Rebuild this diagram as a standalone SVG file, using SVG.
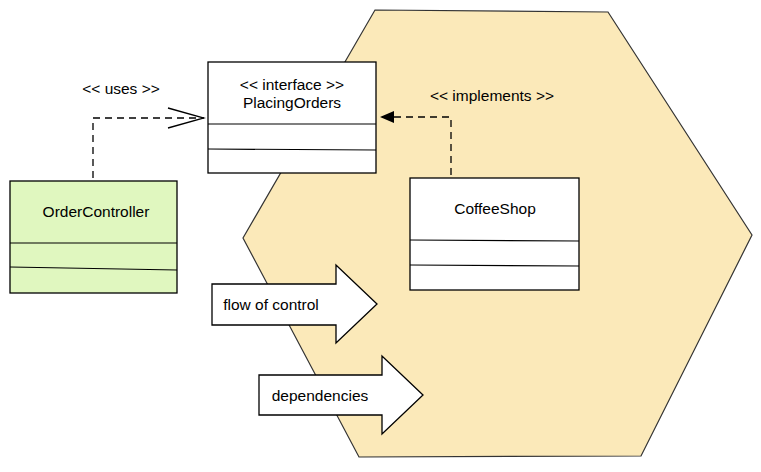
<svg xmlns="http://www.w3.org/2000/svg" width="761" height="472" viewBox="0 0 761 472">
<defs>
<style>
text{font-family:"Liberation Sans",Arial,sans-serif;font-size:15.5px;fill:#000;text-anchor:middle;dominant-baseline:central}
.box{fill:#fff;stroke:#000;stroke-width:1.3}
.div{stroke:#000;stroke-width:1.2;fill:none}
.dash{fill:none;stroke:#000;stroke-width:1.3;stroke-dasharray:7 5}
</style>
<marker id="open" viewBox="0 0 40 24" refX="38" refY="12" markerWidth="40" markerHeight="24" markerUnits="userSpaceOnUse" orient="auto">
<path d="M2,2 L38,12 L2,22" fill="none" stroke="#000" stroke-width="1.3"/>
</marker>
<marker id="filled" viewBox="0 0 14 12" refX="13" refY="6" markerWidth="14" markerHeight="12" markerUnits="userSpaceOnUse" orient="auto">
<path d="M0,0 L14,6 L0,12 Z" fill="#000"/>
</marker>
</defs>
<g id="hexagon">
<path d="M375,10 L608,12 L752,235 L641,456 L359,457 L243,238 Z" fill="#fbe9b9" stroke="#333" stroke-width="1.2"/>
</g>
<g id="connectors">
<path class="dash" d="M93,178 L93,118 L204,118" marker-end="url(#open)"/>
<text x="121" y="88">&lt;&lt; uses &gt;&gt;</text>
<path class="dash" d="M451,175 L451,117 L381,117" marker-end="url(#filled)"/>
<text x="492" y="95">&lt;&lt; implements &gt;&gt;</text>
</g>
<g id="placingorders">
<rect class="box" x="208" y="62" width="168" height="111"/>
<line class="div" x1="208" y1="124" x2="376" y2="124"/>
<line class="div" x1="208" y1="149" x2="376" y2="150"/>
<text x="292" y="84">&lt;&lt; interface &gt;&gt;</text>
<text x="292" y="102">PlacingOrders</text>
</g>
<g id="ordercontroller">
<rect x="10" y="181" width="167" height="112" fill="#e0f7bf" stroke="#000" stroke-width="1.3"/>
<line class="div" x1="10" y1="243" x2="177" y2="243"/>
<line class="div" x1="10" y1="267" x2="177" y2="270"/>
<text x="96" y="211">OrderController</text>
</g>
<g id="coffeeshop">
<rect class="box" x="410" y="178" width="169" height="112"/>
<line class="div" x1="410" y1="240" x2="579" y2="241"/>
<line class="div" x1="410" y1="265" x2="579" y2="266"/>
<text x="495" y="208">CoffeeShop</text>
</g>
<g id="flowofcontrol">
<path class="box" d="M212,284 L336,284 L336,265 L377,304 L336,343 L336,325 L212,325 Z"/>
<text x="271" y="304">flow of control</text>
</g>
<g id="dependencies">
<path class="box" d="M259,375 L382,375 L382,356 L423,395 L382,434 L382,415 L259,415 Z"/>
<text x="320" y="395">dependencies</text>
</g>
</svg>
